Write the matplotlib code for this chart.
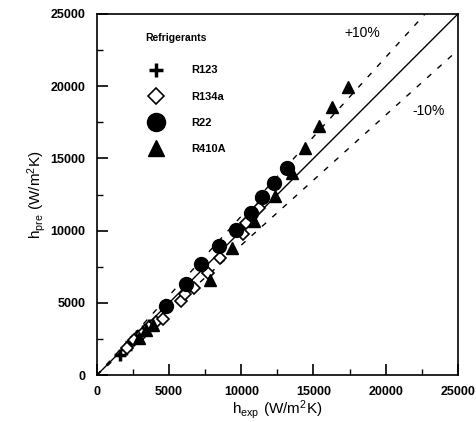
import matplotlib
matplotlib.use("Agg")
import matplotlib.pyplot as plt
import numpy as np

plt.rcParams['font.family'] = ['Liberation Sans', 'DejaVu Sans']

# R123
r123_x = [1600, 2000, 2400, 2800, 3200, 3600]
r123_y = [1400, 1800, 2300, 2700, 3050, 3450]
# R134a
r134a_x = [2100, 2600, 3100, 3600, 4100, 4600, 5800, 6100, 6700, 7700, 8500, 10100, 10300, 11200]
r134a_y = [1900, 2400, 2850, 3300, 3700, 3900, 5100, 5600, 6050, 7100, 8100, 9750, 10500, 11540]
# R22
r22_x = [4820, 6200, 7230, 8440, 9620, 10640, 11430, 12260, 13140]
r22_y = [4780, 6290, 7660, 8910, 10060, 11240, 12300, 13320, 14310]
# R410A
r410a_x = [2900, 3400, 3900, 7810, 9370, 10900, 12330, 13500, 14400, 15400, 16300, 17360]
r410a_y = [2600, 3100, 3500, 6580, 8770, 10700, 12400, 14000, 15750, 17240, 18540, 19920]

fig = plt.figure(figsize=(4.77, 4.22), dpi=100)
ax = fig.add_axes([0.203, 0.111, 0.757, 0.856])

lim = 25000
ax.plot([0, lim], [0, lim], color='k', lw=1.0)
ax.plot([0, lim / 1.1], [0, lim], color='k', lw=1.0, dashes=(4, 6))
ax.plot([0, lim], [0, lim * 0.9], color='k', lw=1.0, dashes=(4, 6))

ax.plot(r123_x, r123_y, ls='none', marker='+', ms=8, mew=2.5, color='k', label='R123')
ax.plot(r134a_x, r134a_y, ls='none', marker='D', ms=6, mew=1.2, mfc='white', mec='k', label='R134a')
ax.plot(r22_x, r22_y, ls='none', marker='o', ms=10, color='k', label='R22')
ax.plot(r410a_x, r410a_y, ls='none', marker='^', ms=9, color='k', label='R410A')

ax.text(18400, 23700, '+10%', fontsize=10, ha='center', va='center')
ax.text(23000, 18300, '-10%', fontsize=10, ha='center', va='center')

leg = ax.legend(loc='upper left', bbox_to_anchor=(0.115, 0.965), frameon=False,
                title='Refrigerants', labelspacing=1.45, handletextpad=2.2,
                markerscale=1.3, borderaxespad=0.2,
                prop={'weight': 'bold', 'size': 8})
leg.get_title().set_fontweight('bold')
leg.get_title().set_fontsize(7.5)
leg._legend_box.align = 'left'
leg._legend_box.sep = 16

ax.set_xlim(0, lim)
ax.set_ylim(0, lim)
ax.set_xticks(np.arange(0, 25001, 5000))
ax.set_yticks(np.arange(0, 25001, 5000))
ax.set_xticks(np.arange(0, 25001, 2500), minor=True)
ax.set_yticks(np.arange(0, 25001, 2500), minor=True)
ax.tick_params(which='both', direction='in', top=False, right=False)
ax.tick_params(which='major', length=8, width=1.2, labelsize=9, pad=8)
ax.tick_params(which='minor', length=4, width=1)
for lab in ax.get_xticklabels() + ax.get_yticklabels():
    lab.set_fontweight('bold')
for s in ax.spines.values():
    s.set_linewidth(1.2)

ax.set_xlabel(r'$\mathregular{h_{exp}\ (W/m^2K)}$', fontsize=11, labelpad=0)
ax.set_ylabel(r'$\mathregular{h_{pre}\ (W/m^2K)}$', fontsize=11, labelpad=2)

fig.savefig('out.png', dpi=100)
